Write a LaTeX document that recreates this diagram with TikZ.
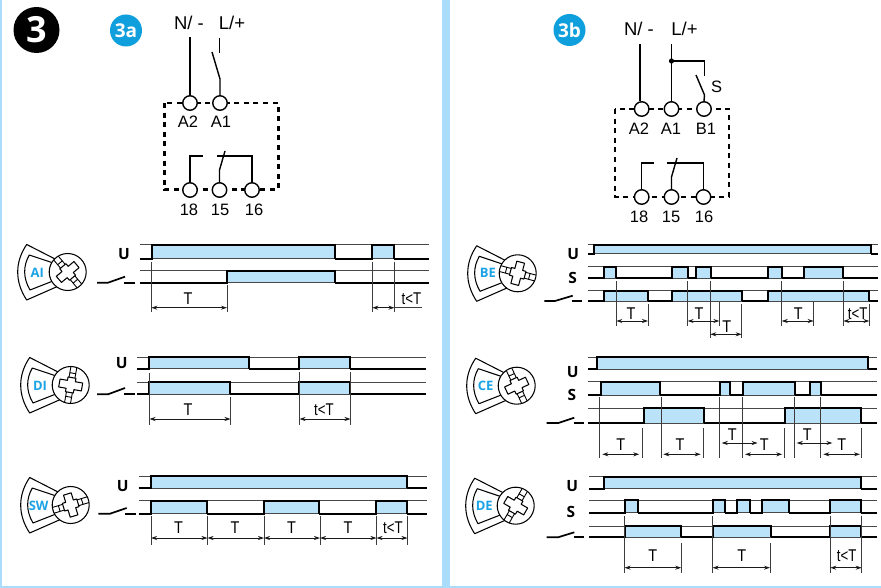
\documentclass[tikz,border=0pt]{standalone}
\usepackage{fontspec}
\setmainfont{Liberation Sans}
\newfontfamily\bdg{Open Sans}
\usetikzlibrary{arrows.meta}
\definecolor{band}{HTML}{A9DDFB}
\definecolor{pulsec}{HTML}{BAE3FA}
\definecolor{badge}{HTML}{0F9FDC}
\definecolor{txtblue}{HTML}{1BA3E6}
\definecolor{ink}{HTML}{1A1A1A}
\newcounter{lc}
\tikzset{
  thinw/.style={draw=ink!80,line width=1pt},
  thickw/.style={draw=black,line width=2.1pt},
  dimw/.style={draw=ink!85,line width=.9pt},
  arrw/.style={draw=ink,line width=.9pt,{Stealth[length=6pt,width=4pt]}-{Stealth[length=6pt,width=4pt]}},
  wire/.style={draw=black,line width=1.4pt},
  dashbox/.style={draw=black,line width=2.2pt,dash pattern=on 5pt off 4.6pt},
  term/.style={circle,draw=black,fill=white,line width=1.4pt,minimum size=14.5pt,inner sep=0pt},
  txt/.style={inner sep=0pt,font=\fontsize{16.5}{17}\selectfont},
  bigtxt/.style={inner sep=0pt,font=\fontsize{18.5}{20}\selectfont},
  tlab/.style={inner sep=0pt,font=\fontsize{17}{18}\selectfont},
  sig/.style={inner sep=0pt,font=\bdg\bfseries\fontsize{15.5}{16}\selectfont},
  fantxt/.style={inner sep=0pt,text=txtblue,font=\bdg\bfseries\fontsize{13}{14}\selectfont},
  icon/.style={draw=black,line width=1.05pt,line join=round},
}
\newcommand\lT{\scalebox{.85}[1]{T}}
\newcommand\lt{\scalebox{.78}[1]{t<T}}
\newcommand\wave[5]{%
  \draw[thinw] (#3,#1) -- (#4,#1);
  \draw[thinw] (#3,#2) -- (#4,#2);
  \gdef\lastx{#3}
  \foreach \a/\b in {#5}{
    \fill[pulsec] (\a,#1) rectangle (\b,#2);
    \draw[thinw] (\a,#2) -- (\b,#2);
    \draw[thickw] (\lastx,#2) -- (\a,#2) -- (\a,#1) -- (\b,#1) -- (\b,#2);
    \xdef\lastx{\b}
  }
  \draw[thickw] (\lastx,#2) -- (#4,#2);
}
\newcommand\vl[3]{\draw[dimw] (#1,#2) -- (#1,#3);}
\newcommand\tspan[6]{%
  \stepcounter{lc}
  \coordinate (sa\arabic{lc}) at (#1,#3);
  \coordinate (sb\arabic{lc}) at (#2,#3);
  \draw[arrw] (sa\arabic{lc}) -- (sb\arabic{lc});
  \node[tlab] (sl\arabic{lc}) at (#5,#6) {#4};
}
\newcommand\relaysym[7]{\draw[thickw,line width=1.7pt] (#1,#3) -- (#2,#3) -- (#4,#5);
  \draw[thickw,line width=1.7pt] (#6,#3) -- (#7,#3);}
\newcommand\fan[6]{%
  \begin{scope}[shift={(#1,#2)}]
    \draw[icon] (-13,-13.2) -- (-41,-27.5) .. controls (-53,-10) and (-53,10) .. (-41,28) -- (-11,14.8);
    \draw[icon] (-16,-9.5) -- (-38.4,-17) .. controls (-44.7,-6) and (-44.7,6) .. (-37.7,18) -- (-16,9.5);
    \draw[icon] (0,0) circle (18.5);
    \begin{scope}[rotate=#5]
      \draw[icon] (-4,-4) -- (-4,-11.5) -- (4,-11.5) -- (4,-4) -- (7.5,-4) -- (7.5,4) -- (4,4) -- (4,11.5) -- (-4,11.5) -- (-4,4) -- (-7.5,4) -- (-7.5,-4) -- cycle;
      \draw[icon,line width=.9pt] (7.5,-3) -- (18,-3) (7.5,3) -- (18,3) (-7.5,-3) -- (-18,-3) (-7.5,3) -- (-18,3)
        (12,-3) -- (12,3) (-12,-3) -- (-12,3);
    \end{scope}
  \end{scope}
  \node[fantxt] at (#3,#4) {#6};
}
\begin{document}
\begin{tikzpicture}[x=1pt,y=-1pt]
\useasboundingbox (0,0) rectangle (881,588);
\fill[white] (0,0) rectangle (881,588);
\fill[band] (0,0) rectangle (1.6,588);
\fill[band] (441.7,0) rectangle (450,588);
\fill[band] (0,586.3) rectangle (881,588);
\node[circle,fill=black,minimum size=46pt,inner sep=0pt,text=white,font=\bdg\bfseries\fontsize{36}{36}\selectfont] (b3) at (36.5,30) {3};
\node[circle,fill=badge,minimum size=32pt,inner sep=0pt,text=white,font=\bdg\bfseries\fontsize{19}{20}\selectfont] (b3a) at (126,30.5) {3a};
\node[circle,fill=badge,minimum size=32pt,inner sep=0pt,text=white,font=\bdg\bfseries\fontsize{19}{20}\selectfont] (b3b) at (569.5,30) {3b};

% ---- circuit 3a
\draw[dashbox] (164.5,103) rectangle (278.5,189.5);
\node[term] (a2) at (190,103) {};
\node[term] (a1) at (220,103) {};
\node[term] (a18) at (190,190) {};
\node[term] (a15) at (219.5,190) {};
\node[term] (a16) at (252,190) {};
\node[bigtxt] (an) at (189,22.5) {N/ -};
\node[bigtxt] (al) at (232,22.5) {L/+};
\node[txt] at (188,122) {A2};
\node[txt] at (221,122) {A1};
\node[txt] at (189,210) {18};
\node[txt] at (220,210) {15};
\node[txt] at (254,210) {16};
\coordinate (an1) at (190,37);
\draw[wire] (an1) -- (a2.north);
\coordinate (al1) at (219.5,38);
\coordinate (al2) at (219.5,53);
\coordinate (as1) at (212,52);
\coordinate (as2) at (220,79);
\draw[wire] (al1) -- (al2);
\draw[wire] (as1) -- (as2) -- (a1.north);
\draw[wire] (a18.north) -- (190,156) -- (203,156);
\draw[wire] (217,156) -- (252,156) -- (a16.north);
\draw[wire] (a15.north) -- (219.5,170) -- (225,151);

% ---- circuit 3b
\draw[dashbox] (615,109) rectangle (729,196.7);
\node[term] (b2) at (641.7,109) {};
\node[term] (b1) at (671.5,109) {};
\node[term] (bb) at (704,109) {};
\node[term] (b18) at (641.7,197) {};
\node[term] (b15) at (671.5,197) {};
\node[term] (b16) at (703.5,197) {};
\node[bigtxt] (bn) at (639,29) {N/ -};
\node[bigtxt] (bl) at (684.5,29) {L/+};
\node[txt] at (639,129) {A2};
\node[txt] at (671,129) {A1};
\node[txt] at (706,129) {B1};
\node[txt] at (639,217) {18};
\node[txt] at (671,217) {15};
\node[txt] at (704,217) {16};
\node[txt] at (716.5,87) {S};
\coordinate (bn1) at (640,44);
\coordinate (bl1) at (671.5,44);
\coordinate (bd) at (671.5,61);
\draw[wire] (bn1) -- (bn1 |- b2.north);
\draw[wire] (bl1) -- (b1.north);
\fill[black] (bd) circle (2.6);
\draw[wire] (bd) -- (704.5,61) -- (704.5,76);
\draw[wire] (696,75) -- (704.5,95) -- (bb.north);
\draw[wire] (b18.north) -- (641.7,163) -- (654,163);
\draw[wire] (667,163) -- (703.5,163) -- (b16.north);
\draw[wire] (b15.north) -- (671.5,177) -- (677,158);

% ---- AI
\fan{67.7}{272}{37.3}{272.7}{-50}{AI}
\node[sig] at (124,254) {U};
\wave{245}{258.7}{140}{429}{152/335,372.3/394.3}
\wave{270.7}{282.7}{140}{429}{226.7/335}
\relaysym{97}{108}{282.7}{125}{276.7}{124.3}{135}
\vl{151.3}{262}{311.6}\vl{227}{285}{311.6}\vl{372.3}{262}{311.6}\vl{394.4}{262}{311.6}
\tspan{151.3}{227}{307.7}{\lT}{188}{299}
\tspan{372.3}{394.4}{307.7}{\lt}{411.5}{299}
\draw[dimw] (394.4,307.7) -- (422,307.7);

% ---- DI
\fan{70.7}{385}{40}{385.7}{80}{DI}
\node[sig] at (121.7,362.7) {U};
\wave{357}{368.7}{137}{426}{149/249,299/350}
\wave{382.3}{394.3}{137}{426}{149/230,299/350}
\relaysym{97}{108}{394.3}{125}{388}{124.3}{135}
\vl{149.5}{373}{425}\vl{230.5}{397}{425}\vl{299.5}{372}{425}\vl{350.5}{372}{425}
\tspan{149.5}{230.5}{419}{\lT}{188}{410}
\tspan{299.5}{350.5}{419}{\lt}{324}{410}

% ---- SW
\fan{70.7}{505}{38.7}{506}{17}{SW}
\node[sig] at (122.7,485.7) {U};
\wave{476.3}{488.3}{138.7}{427}{151/407}
\wave{500.7}{513.7}{138.7}{427}{151/207.3,263.7/319.3,376/407}
\relaysym{98.3}{110}{513.7}{126.7}{508}{125.3}{136.3}
\foreach \x in {151,207.5,264,320,376.5,407.5}{\vl{\x}{516}{545}}
\tspan{151}{207.5}{538}{\lT}{178.5}{527.7}
\tspan{207.5}{264}{538}{\lT}{235}{527.7}
\tspan{264}{320}{538}{\lT}{291.5}{527.7}
\tspan{320}{376.5}{538}{\lT}{348}{527.7}
\tspan{376.5}{407.5}{538}{\lt}{393}{527.7}

% ---- BE
\fan{517.7}{273.3}{488}{273}{-15}{BE}
\node[sig] at (573.3,254.3) {U};
\node[sig] at (572.7,278.3) {S};
\wave{245}{253.7}{588.3}{878.3}{594.3/871}
\wave{266.7}{278.3}{588.3}{878.3}{604/616.3,671.7/688.3,695.7/710.7,767.7/781.7,804.3/843.3}
\wave{290.7}{301}{588.3}{878.3}{604/648,671.7/741.7,768.3/869.3}
\relaysym{544.3}{555}{301}{572.7}{295.7}{571.7}{582.3}
\vl{616.3}{281}{325.7}\vl{648}{304}{325.7}
\vl{687.6}{281}{325.7}\vl{719.3}{302}{325.7}
\vl{710.3}{281}{338}\vl{741.7}{304}{338}
\vl{781.7}{281}{325.7}\vl{813.7}{302}{325.7}
\vl{843.3}{281}{325.7}\vl{869.3}{304}{325.7}
\tspan{616.3}{648}{321}{\lT}{631}{313.5}
\tspan{687.6}{719.3}{321}{\lT}{699}{313.5}
\tspan{710.3}{741.7}{334.3}{\lT}{726.7}{326.5}
\tspan{781.7}{813.7}{321}{\lT}{798.3}{313.5}
\tspan{843.3}{869.3}{321}{\lt}{857.7}{313.5}

% ---- CE
\fan{516.7}{385.7}{485.7}{385.7}{-65}{CE}
\node[sig] at (572.7,371.7) {U};
\node[sig] at (572,395) {S};
\wave{357}{369.3}{588.3}{877}{596.7/867.7}
\wave{381.7}{395}{588.3}{877}{600.7/660.3,719.7/730.3,742.7/795,810/820.7}
\wave{408.3}{423}{588.3}{877}{643.7/704.3,785.3/861}
\relaysym{546.7}{558.3}{423}{574.3}{417.7}{573.7}{583.7}
\foreach \x in {599.7,661,719,742.7,794.7,820.7}{\vl{\x}{397}{458}}
\foreach \x in {642.7,703.3,784,861.7}{\vl{\x}{428}{458}}
\tspan{602.3}{639.3}{454.3}{\lT}{620.7}{445}
\tspan{663.3}{700.7}{454.3}{\lT}{680}{445}
\tspan{721.7}{757.7}{443}{\lT}{732.3}{434.3}
\tspan{745}{782.3}{454.3}{\lT}{764.3}{445}
\tspan{796.7}{832.3}{443}{\lT}{807.3}{434.3}
\tspan{823.3}{860}{454.3}{\lT}{841.7}{445}

% ---- DE
\fan{515.7}{505.7}{484.3}{505.7}{60}{DE}
\node[sig] at (572.3,486) {U};
\node[sig] at (571,511.7) {S};
\wave{476.7}{488.7}{589}{877}{604/861}
\wave{500.3}{512.7}{589}{877}{625.3/638.3,713/725,736.7/749.7,762.3/789,830.3/861}
\wave{526}{537.3}{589}{877}{625/681,713/770.7,830/861}
\relaysym{546.7}{558}{537.3}{574.3}{532.3}{574}{583.7}
\vl{624.6}{515.7}{573.3}\vl{681.3}{543}{573.3}
\vl{712.5}{515.7}{573.3}\vl{770}{543}{573.3}
\vl{830.3}{515.7}{573.3}\vl{861.7}{515.7}{573.3}
\tspan{624.6}{681.3}{567.7}{\lT}{652.7}{555.7}
\tspan{712.5}{770}{567.7}{\lT}{741.7}{555.7}
\tspan{830.3}{861.7}{567.7}{\lt}{846.7}{555.7}
\end{tikzpicture}
\end{document}
